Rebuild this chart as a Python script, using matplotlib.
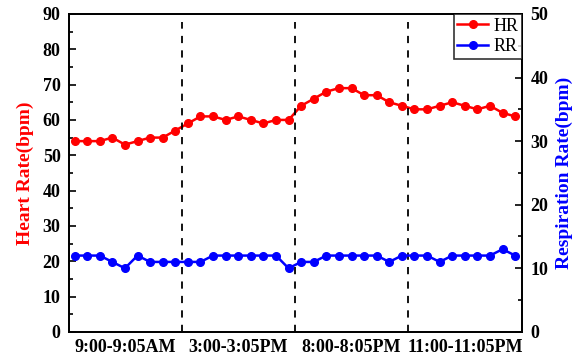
import matplotlib
matplotlib.use("Agg")
import matplotlib.pyplot as plt
import numpy as np

plt.rcParams['font.family'] = ['Liberation Serif', 'DejaVu Serif']

# heart rate (left axis) and respiration rate (right axis), 9 samples per session
hr = [54, 54, 54, 55, 53, 54, 55, 55, 57,
      59, 61, 61, 60, 61, 60, 59, 60, 60,
      64, 66, 68, 69, 69, 67, 67, 65, 64,
      63, 63, 64, 65, 64, 63, 64, 62, 61]
rr = [12, 12, 12, 11, 10, 12, 11, 11, 11,
      11, 11, 12, 12, 12, 12, 12, 12, 10,
      11, 11, 12, 12, 12, 12, 12, 11, 12,
      12, 12, 11, 12, 12, 12, 12, 13, 12]
sessions = ["9:00-9:05AM", "3:00-3:05PM", "8:00-8:05PM", "11:00-11:05PM"]
per_session = 9

x = np.arange(len(hr))

fig = plt.figure(figsize=(5.84, 3.58), dpi=100)
ax = fig.add_axes([0.118, 0.073, 0.776, 0.888])
ax2 = ax.twinx()

l1, = ax.plot(x, hr, color='red', marker='o', markersize=5.5, linewidth=1.8, label='HR')
l2, = ax2.plot(x, rr, color='blue', marker='o', markersize=5.5, linewidth=1.8, label='RR')

for k in range(1, len(sessions)):
    ax.axvline(k * per_session - 0.5, ymin=0, ymax=0.975, color='black',
               linestyle=(0, (4, 4)), linewidth=1.3)

ax.set_xlim(-0.45, len(hr) - 0.45)
ax.set_ylim(0, 90)
ax2.set_ylim(0, 50)

centers = [k * per_session + (per_session - 1) / 2 for k in range(len(sessions))]
ax.set_xticks(centers)
ax.set_xticklabels(sessions, fontsize=13, fontweight='bold')
ax.tick_params(axis='x', length=0, pad=5)

ax.set_yticks(np.arange(0, 91, 10))
ax.set_yticks(np.arange(5, 90, 10), minor=True)
ax2.set_yticks(np.arange(0, 51, 10))
ax2.set_yticks(np.arange(5, 50, 10), minor=True)
for a in (ax, ax2):
    a.tick_params(axis='y', which='major', direction='in', length=5, width=1.2,
                  labelsize=13, pad=6)
    a.tick_params(axis='y', which='minor', direction='in', length=3, width=1.2)
    for lab in a.get_yticklabels():
        lab.set_fontweight('bold')
    for s in a.spines.values():
        s.set_linewidth(1.3)

ax.set_ylabel('Heart Rate(bpm)', color='red', fontsize=14, fontweight='bold', labelpad=6)
ax2.set_ylabel('Respiration Rate(bpm)', color='blue', fontsize=14, fontweight='bold', labelpad=5)

leg = ax2.legend(handles=[l1, l2], loc='upper right', fontsize=13, frameon=True,
                 fancybox=False, edgecolor='black', borderaxespad=0,
                 handlelength=1.7, handletextpad=0.3, borderpad=0.2, labelspacing=0.2)
leg.get_frame().set_linewidth(1.2)

fig.savefig('out.png', dpi=100)
